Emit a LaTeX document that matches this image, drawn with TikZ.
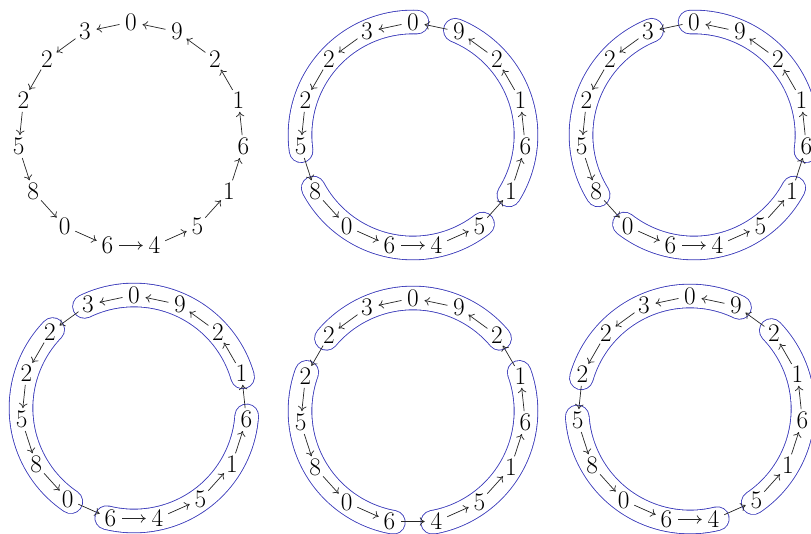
\documentclass[tikz,border=0pt]{standalone}
\usetikzlibrary{arrows.meta}
\definecolor{RingBlue}{RGB}{55,55,185}

\begin{document}
\begin{tikzpicture}[x=0.025cm, y=0.025cm, font=\fontsize{18}{20}\selectfont]
\tikzset{
  digit/.style={circle, inner sep=0pt, minimum size=0.575cm},
  link/.style={-{To[length=3.5pt,width=6pt]}, line width=0.5pt, black!85},
  band/.style={draw=RingBlue, line width=0.6pt, double=white, double distance=0.57cm, line cap=round}
}
\useasboundingbox (0,0) rectangle (811,534);

% ring name / centre / angle where the first group starts (-1: no groups)
\foreach \r/\cx/\cy/\g in {a/131/399/-1, b/413/399/90, c/694/399/114,
                           d/134/126/138, e/413/123/162, f/690/125/186} {
  \begin{scope}[shift={(\cx,\cy)}]
    \ifnum\g<0 \else
      \foreach \k in {0,1,2} {
        \pgfmathsetmacro\sa{\g+120*\k-2}
        \pgfmathsetmacro\ea{\g+120*\k+98}
        \draw[band] (\sa:113) arc[start angle=\sa, end angle=\ea, radius=113];
      }
    \fi
    \foreach \d [count=\i from 0] in {0,3,2,2,5,8,0,6,4,5,1,6,1,2,9}
      \node[digit] (\r-\i) at (90+24*\i:113) {\d};
    \foreach \i in {0,...,14} {
      \pgfmathtruncatemacro\j{mod(\i+1,15)}
      \draw[link] (\r-\i) -- (\r-\j);
    }
  \end{scope}
}
\end{tikzpicture}
\end{document}
